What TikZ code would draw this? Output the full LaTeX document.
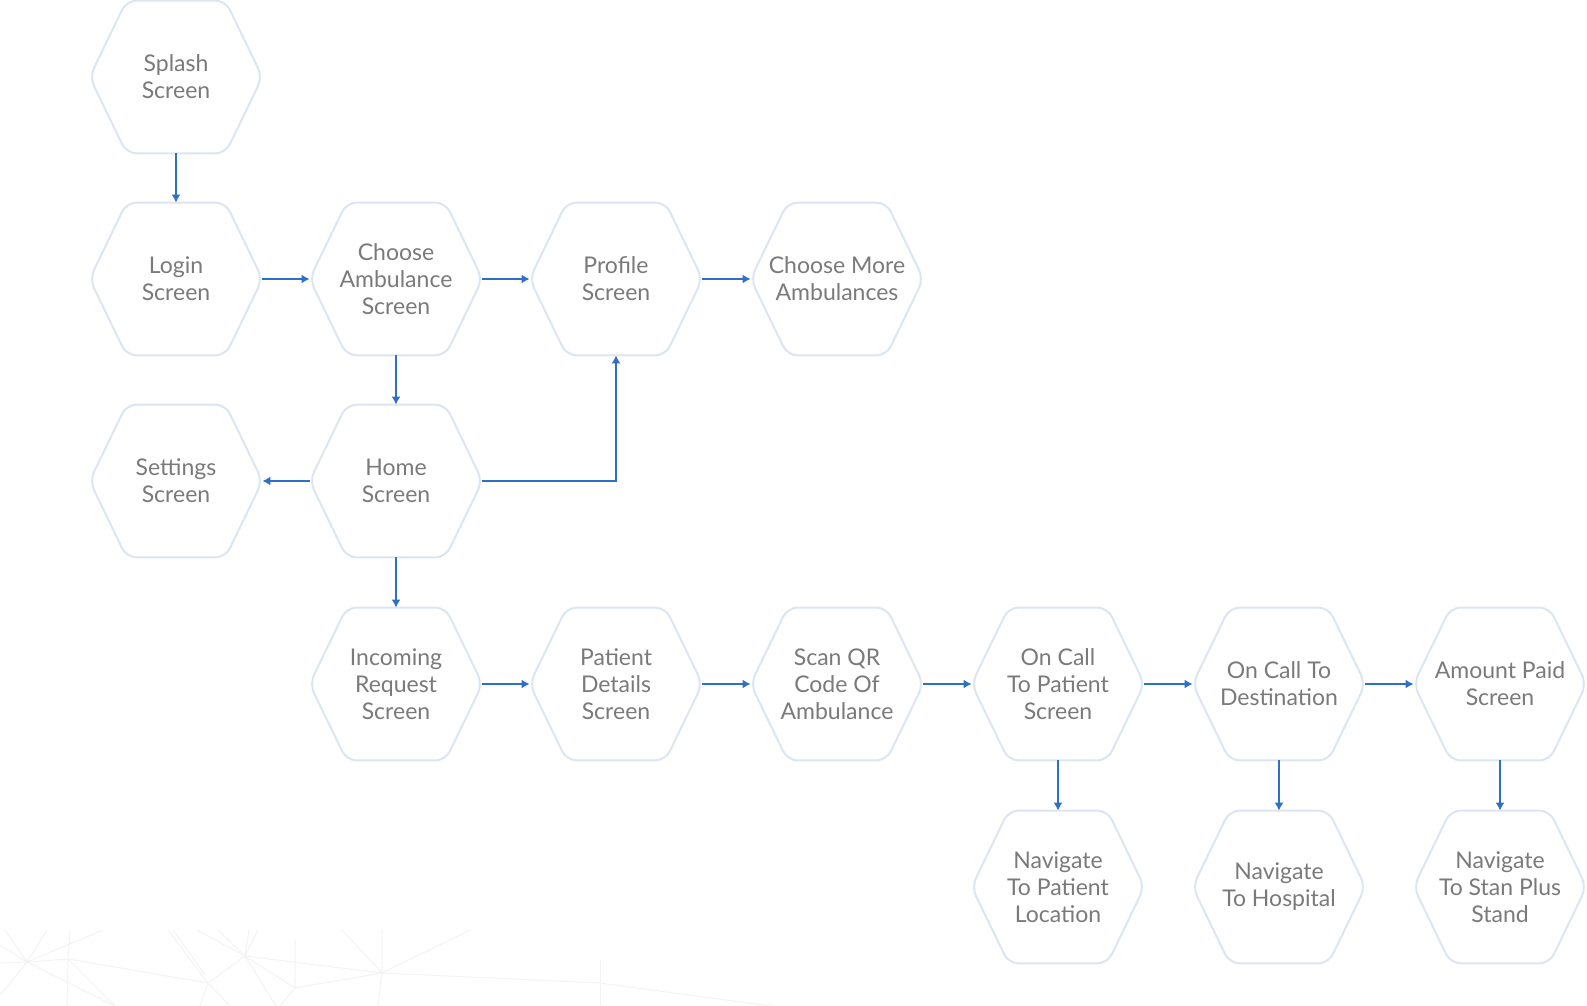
\documentclass[tikz,border=0pt]{standalone}
\usepackage{fontspec}
\setmainfont{Lato}
\usetikzlibrary{arrows.meta,calc}
\definecolor{txt}{HTML}{7A7A7A}
\definecolor{hexc}{HTML}{DCE6F1}
\definecolor{arr}{HTML}{2E6FC7}
\definecolor{bgl}{HTML}{F3F3F3}
\begin{document}
\begin{tikzpicture}[x=0.5pt,y=-0.5pt,
  hexbox/.style={rectangle, minimum width=86pt, minimum height=76pt, inner sep=0pt,
    align=center, font=\fontsize{11.5}{13.5}\selectfont, text=txt},
  hexline/.style={draw=hexc, line width=1pt, rounded corners=5pt},
  flow/.style={draw=arr, line width=1pt, -{Latex[length=4pt,width=4.5pt]}},
  bgline/.style={draw=bgl, line width=0.5pt}]
\useasboundingbox[fill=white] (0,0) rectangle (1587,1006);
% faint background pattern
\begin{scope}
\clip (0,930) rectangle (800,1006);
\draw[bgline] (0,963) -- (27,962) -- (68,959) -- (208,983) -- (245,956) -- (382,973) -- (600,983) -- (800,1010);
\draw[bgline] (5,930) -- (27,962) -- (47,930);
\draw[bgline] (27,962) -- (0,995);
\draw[bgline] (0,945) -- (27,962) -- (115,1006);
\draw[bgline] (70,930) -- (68,959) -- (67,1006);
\draw[bgline] (103,930) -- (27,962);
\draw[bgline] (68,959) -- (115,1006);
\draw[bgline] (168,930) -- (208,983) -- (200,1006);
\draw[bgline] (208,983) -- (230,1006);
\draw[bgline] (173,930) -- (205,975);
\draw[bgline] (197,930) -- (245,956) -- (218,930);
\draw[bgline] (249,930) -- (245,956) -- (258,930);
\draw[bgline] (245,956) -- (276,1006);
\draw[bgline] (245,956) -- (295,988) -- (280,1006);
\draw[bgline] (295,940) -- (295,988) -- (382,973);
\draw[bgline] (342,930) -- (382,973) -- (382,930);
\draw[bgline] (382,973) -- (378,1006);
\draw[bgline] (382,973) -- (470,930);
\draw[bgline] (600,960) -- (600,1006);
\end{scope}
% nodes
\node[hexbox] (splash) at (176,77) {Splash\\Screen};
\node[hexbox] (login) at (176,279) {Login\\Screen};
\node[hexbox] (choose) at (396,279) {Choose\\Ambulance\\Screen};
\node[hexbox] (profile) at (616,279) {Profile\\Screen};
\node[hexbox] (more) at (837,279) {Choose More\\Ambulances};
\node[hexbox] (settings) at (176,481) {Settings\\Screen};
\node[hexbox] (home) at (396,481) {Home\\Screen};
\node[hexbox] (incoming) at (396,684) {Incoming\\Request\\Screen};
\node[hexbox] (patient) at (616,684) {Patient\\Details\\Screen};
\node[hexbox] (scan) at (837,684) {Scan QR\\Code Of\\Ambulance};
\node[hexbox] (oncall) at (1058,684) {On Call\\To Patient\\Screen};
\node[hexbox] (dest) at (1279,684) {On Call To\\Destination};
\node[hexbox] (paid) at (1500,684) {Amount Paid\\Screen};
\node[hexbox] (navpat) at (1058,887) {Navigate\\To Patient\\Location};
\node[hexbox] (navhosp) at (1279,887) {Navigate\\To Hospital};
\node[hexbox] (navstan) at (1500,887) {Navigate\\To Stan Plus\\Stand};
% hexagon outlines
\foreach \n in {splash,login,choose,profile,more,settings,home,incoming,patient,scan,oncall,dest,paid,navpat,navhosp,navstan}{
  \draw[hexline] (\n.west) -- ($(\n.north west)+(37,0)$) -- ($(\n.north east)+(-37,0)$)
    -- (\n.east) -- ($(\n.south east)+(-37,0)$) -- ($(\n.south west)+(37,0)$) -- cycle;
}
% connectors
\draw[flow] (splash.south) -- (login.north);
\draw[flow] (login.east) -- (choose.west);
\draw[flow] (choose.east) -- (profile.west);
\draw[flow] (profile.east) -- (more.west);
\draw[flow] (choose.south) -- (home.north);
\draw[flow] (home.west) -- (settings.east);
\draw[flow] (home.east) -| (profile.south);
\draw[flow] (home.south) -- (incoming.north);
\draw[flow] (incoming.east) -- (patient.west);
\draw[flow] (patient.east) -- (scan.west);
\draw[flow] (scan.east) -- (oncall.west);
\draw[flow] (oncall.east) -- (dest.west);
\draw[flow] (dest.east) -- (paid.west);
\draw[flow] (oncall.south) -- (navpat.north);
\draw[flow] (dest.south) -- (navhosp.north);
\draw[flow] (paid.south) -- (navstan.north);
\end{tikzpicture}
\end{document}
